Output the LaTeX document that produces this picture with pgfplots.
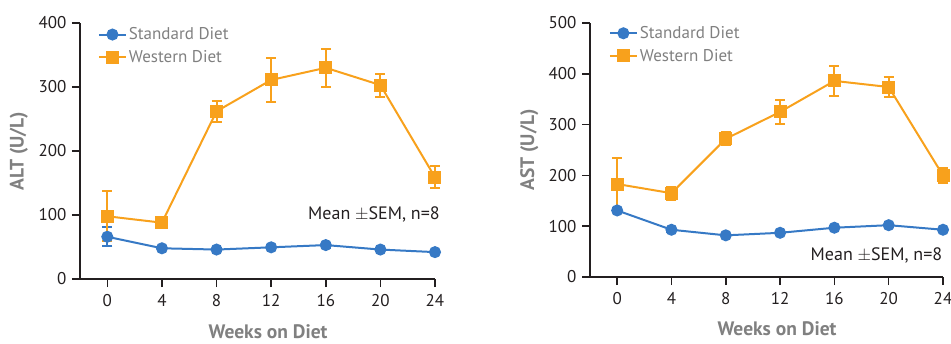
\documentclass[border=0pt]{standalone}
\usepackage{pgfplots}
\pgfplotsset{compat=1.18}
\usepackage{fontspec}
\setmainfont{PT Sans}
\definecolor{wd}{HTML}{F8A11C}
\definecolor{sd}{HTML}{3679C5}
\definecolor{lab}{HTML}{808080}
\definecolor{axc}{HTML}{231F20}
\pgfplotstableread{
x  y   e
0  66  15
4  48  3
8  46  2
12 49.5 3
16 53  4
20 46  2
24 42  3
}\altsd
\pgfplotstableread{
x  y   e
0  98  39
4  88  6
8  262 16
12 311 35
16 330 30
20 303 18
24 159 17
}\altwd
\pgfplotstableread{
x  y   e
0  131 4
4  93  4
8  82  3
12 87  3
16 97  3
20 102 3
24 93  3
}\astsd
\pgfplotstableread{
x  y   e
0  183 51
4  165 13
8  272 13
12 325 24
16 386 30
20 374 20
24 200 14
}\astwd
\pgfplotsset{
  myax/.style={
    scale only axis,
    axis lines*=left,
    axis line style={axc, line width=1.6pt},
    every tick/.style={axc, line width=1.6pt},
    tick align=outside,
    major tick length=8pt,
    xmin=-2, xmax=24,
    xtick={0,4,...,24},
    ymin=0,
    tick label style={font=\fontsize{17}{20}\selectfont, text=axc},
    /pgf/number format/assume math mode=true,
    xticklabel style={yshift=-4pt},
    yticklabel style={xshift=-2pt},
    xlabel={Weeks on Diet},
    xlabel style={font=\bfseries\fontsize{19.5}{22}\selectfont, text=lab, at={(axis description cs:0.53,-0.205)}, anchor=center},
    ylabel style={font=\bfseries\fontsize{19.5}{22}\selectfont, text=lab, at={(axis description cs:-0.172,0.5)}, anchor=center},
    legend style={draw=none, fill=none, font=\fontsize{17}{20}\selectfont, text=lab, anchor=north west, row sep=5pt, inner sep=0pt, cells={anchor=west}},
    legend image code/.code={\draw[mark repeat=2,mark phase=2,#1] plot coordinates {(0pt,0pt) (13.5pt,0pt) (27pt,0pt)};},
    clip=false,
  },
  sdst/.style={sd, line width=2pt, mark=*, mark size=5pt, mark options={solid, fill=sd, draw=sd},
    error bars/.cd, y dir=both, y explicit, error bar style={line width=2pt, sd}, error mark options={line width=2pt, mark size=5pt, sd, rotate=90}},
  wdst/.style={wd, line width=2pt, mark=square*, mark size=5.5pt, mark options={solid, fill=wd, draw=wd},
    error bars/.cd, y dir=both, y explicit, error bar style={line width=2pt, wd}, error mark options={line width=2pt, mark size=5pt, wd, rotate=90}},
}
\begin{document}
\begin{tikzpicture}
\path[use as bounding box] (0pt,0pt) rectangle (951pt,343pt);
\begin{axis}[myax, at={(80pt,64pt)}, anchor=south west, width=355pt, height=256pt,
  ymax=400, ytick={0,100,...,400}, ylabel={ALT (U/L)},
  legend style={at={(axis description cs:0.05,0.99)}}]
\addplot[sdst] table[x=x, y=y, y error=e] {\altsd};
\addlegendentry{Standard Diet}
\addplot[wdst] table[x=x, y=y, y error=e] {\altwd};
\addlegendentry{Western Diet}
\node[anchor=east, font=\fontsize{18}{20}\selectfont, text=axc] at (axis cs:24.6,101) {Mean $\pm$SEM, n=8};
\end{axis}
\begin{axis}[myax, at={(590pt,66pt)}, anchor=south west, width=353pt, height=254pt,
  ymax=500, ytick={0,100,...,500}, ylabel={AST (U/L)},
  legend style={at={(axis description cs:0.053,0.995)}}]
\addplot[sdst] table[x=x, y=y, y error=e] {\astsd};
\addlegendentry{Standard Diet}
\addplot[wdst] table[x=x, y=y, y error=e] {\astwd};
\addlegendentry{Western Diet}
\node[anchor=east, font=\fontsize{18}{20}\selectfont, text=axc] at (axis cs:24.2,43) {Mean $\pm$SEM, n=8};
\end{axis}
\end{tikzpicture}
\end{document}
